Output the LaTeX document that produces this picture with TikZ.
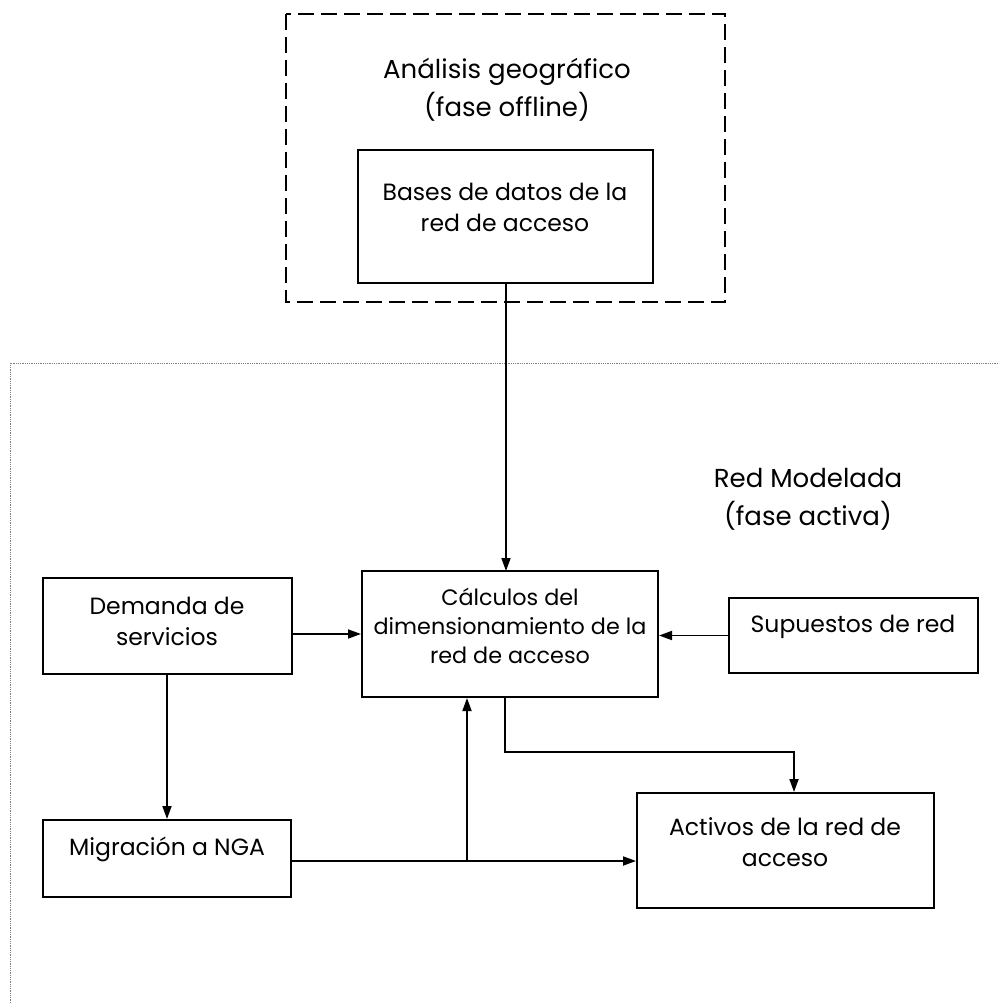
\documentclass[tikz,border=0pt]{standalone}
\usepackage{fontspec}
\setmainfont{Poppins}
\usetikzlibrary{arrows.meta}
\begin{document}
\begin{tikzpicture}[x=1pt,y=-1pt,
  box/.style={draw,line width=2pt,inner sep=0pt},
  txt/.style={align=center,font=\fontsize{23.5}{31}\selectfont,inner sep=0pt},
  title/.style={align=center,font=\fontsize{26}{38}\selectfont,inner sep=0pt},
  conn/.style={line width=1.8pt,-{Triangle[length=13pt,width=9pt]}}]
\useasboundingbox (0,0) rectangle (999,1003);
% outer region (dotted gray)
\draw[gray,line width=0.8pt,densely dotted] (10,1003) -- (10,363) -- (999,363);
% offline dashed region
\draw[line width=1.6pt,dash pattern=on 16pt off 7pt] (286,14) rectangle (725,302);
\node[title] (t1) at (507,90) {Análisis geográfico\\(fase offline)};
\node[title] (t2) at (808,499) {Red Modelada\\(fase activa)};
% boxes
\node[box,minimum width=295pt,minimum height=133pt] (bases) at (505.5,216.5) {};
\node[txt] (basesT) at (505,207) {Bases de datos de la\\red de acceso};
\node[box,minimum width=296pt,minimum height=126pt] (calc) at (510,634) {};
\node[txt,font=\fontsize{22.3}{29}\selectfont] (calcT) at (510,626) {Cálculos del\\dimensionamiento de la\\red de acceso};
\node[box,minimum width=249pt,minimum height=96pt] (dem) at (167,626) {};
\node[txt] (demT) at (167,621) {Demanda de\\servicios};
\node[box,minimum width=249pt,minimum height=75pt] (sup) at (853.5,635.5) {};
\node[txt] (supT) at (853,627) {Supuestos de red};
\node[box,minimum width=248pt,minimum height=77pt] (mig) at (167,858.5) {};
\node[txt] (migT) at (167,849) {Migración a NGA};
\node[box,minimum width=297pt,minimum height=115pt] (act) at (785.5,850.5) {};
\node[txt] (actT) at (785,842) {Activos de la red de\\acceso};
% connectors
\draw[conn] (506,283) -- (506,571);
\draw[conn] (calc.west -| dem.east) -- (calc.west);
\draw[conn] (sup.west) -- (sup.west -| calc.east);
\draw[conn] (dem.south) -- (mig.north);
\draw[conn] (mig.east |- 0,861) -- (act.west |- 0,861);
\coordinate (j) at (467,861);
\draw[conn] (j) -- (j |- calc.south);
\coordinate (c1) at (505,752);
\coordinate (c2) at (794,752);
\draw[conn] (calc.south -| c1) -- (c1) -- (c2) -- (c2 |- act.north);
\end{tikzpicture}
\end{document}
